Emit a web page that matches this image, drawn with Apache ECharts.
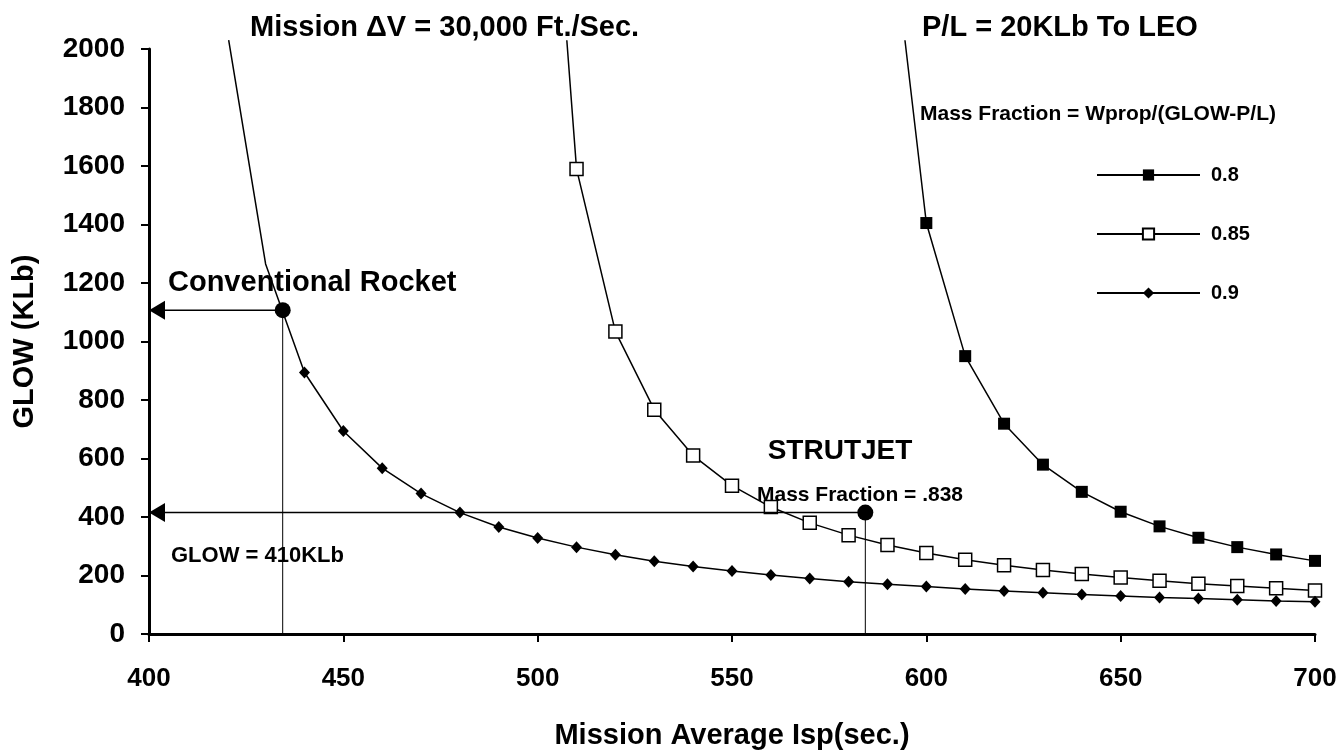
<!DOCTYPE html>
<html>
<head>
<meta charset="utf-8">
<script src="https://cdn.jsdelivr.net/npm/echarts@6/dist/echarts.min.js"></script>
<style>
  html, body { margin: 0; padding: 0; background: #fff; }
  #chart { width: 1342px; height: 755px; }
</style>
</head>
<body>
<div id="chart"></div>
<script>
// ---- Data ----
// Mission average Isp (sec) at the plotted markers
const isp80 = [600, 610, 620, 630, 640, 650, 660, 670, 680, 690, 700];
const glow80 = [1405, 950, 719, 579, 486, 418, 368, 329, 297, 272, 250];

const isp85 = [510, 520, 530, 540, 550, 560, 570, 580, 590, 600, 610, 620, 630, 640, 650, 660, 670, 680, 690, 700];
const glow85 = [1590, 1034, 767, 610, 507, 434, 380, 338, 304, 277, 254, 235, 219, 205, 193, 182, 172, 164, 156, 149];

const isp90 = [440, 450, 460, 470, 480, 490, 500, 510, 520, 530, 540, 550, 560, 570, 580, 590, 600, 610, 620, 630, 640, 650, 660, 670, 680, 690, 700];
const glow90 = [894, 694, 567, 480, 415, 366, 328, 297, 271, 249, 231, 215, 202, 190, 179, 170, 162, 154, 147, 141, 135, 130, 125, 121, 117, 113, 110];

// Unmarked upper ends of each curve (line runs past the top of the frame)
const isp80Top = [594.5];
const glow80Top = [2030];
const isp85Top = [507.5];
const glow85Top = [2030];
const isp90Top = [420.5, 430];
const glow90Top = [2030, 1265];

// Design points
const convIsp = 434.4;
const convGlow = 1107;
const strutIsp = 584.3;
const strutGlow = 415;

// Axis ticks
const xTicks = { min: 400, max: 700, step: 50 };
const yTicks = { min: 0, max: 2000, step: 200 };

const seriesNames = ['0.8', '0.85', '0.9'];

// ---- Build ----
const FONT = "'Liberation Sans', Arial, Helvetica, sans-serif";
const pairs = (xs, ys) => xs.map((x, i) => [x, ys[i]]);
const unmarked = (xs, ys) => xs.map((x, i) => ({ value: [x, ys[i]], symbol: 'none' }));

const arrowPath = 'path://M0,9.5 L16,0 L16,19 Z';

function curve(name, topX, topY, xs, ys, symbol, size, fill) {
  return {
    name: name,
    type: 'line',
    clip: false,
    data: unmarked(topX, topY).concat(pairs(xs, ys)),
    symbol: symbol,
    symbolSize: size,
    showAllSymbol: true,
    lineStyle: { color: '#000', width: 1.5 },
    itemStyle: { color: fill, borderColor: '#000', borderWidth: fill === '#fff' ? 1.5 : 0 },
    z: 3,
    silent: true
  };
}

function designPoint(id, x, y) {
  return [
    {
      name: id + '-h',
      type: 'line',
      clip: false,
      data: [
        { value: [xTicks.min, y], symbol: arrowPath, symbolSize: [16, 19], symbolOffset: [8, 0], symbolKeepAspect: false },
        { value: [x, y], symbol: 'circle', symbolSize: 16 }
      ],
      lineStyle: { color: '#000', width: 1.5 },
      itemStyle: { color: '#000' },
      z: 4,
      silent: true
    },
    {
      name: id + '-v',
      type: 'line',
      clip: false,
      data: [[x, yTicks.min], [x, y]],
      symbol: 'none',
      lineStyle: { color: '#000', width: 1 },
      z: 2,
      silent: true
    }
  ];
}

function txt(text, x, y, size, align) {
  return {
    type: 'text',
    x: x,
    y: y,
    silent: true,
    style: {
      text: text,
      fill: '#000',
      font: 'bold ' + size + 'px ' + FONT,
      align: align || 'left',
      verticalAlign: 'middle'
    }
  };
}

const option = {
  backgroundColor: '#fff',
  animation: false,
  grid: { left: 149, right: 27, top: 49, bottom: 116, containLabel: false },
  legend: {
    data: seriesNames,
    orient: 'vertical',
    left: 1096,
    top: 165,
    padding: 0,
    itemWidth: 103,
    itemHeight: 14,
    itemGap: 39,
    selectedMode: false,
    textStyle: { fontFamily: FONT, fontWeight: 'bold', fontSize: 20, color: '#000', padding: [0, 0, 0, 6] }
  },
  xAxis: {
    type: 'value',
    min: xTicks.min,
    max: xTicks.max,
    interval: xTicks.step,
    name: 'Mission Average Isp(sec.)',
    nameLocation: 'middle',
    nameGap: 87,
    nameTextStyle: { fontFamily: FONT, fontWeight: 'bold', fontSize: 29, color: '#000' },
    axisLine: { show: true, onZero: false, lineStyle: { color: '#000', width: 3 } },
    axisTick: { show: true, inside: false, length: 8, lineStyle: { color: '#000', width: 2 } },
    axisLabel: { margin: 32, fontFamily: FONT, fontWeight: 'bold', fontSize: 26, color: '#000', formatter: v => String(v) },
    splitLine: { show: false }
  },
  yAxis: {
    type: 'value',
    min: yTicks.min,
    max: yTicks.max,
    interval: yTicks.step,
    name: 'GLOW (KLb)',
    nameLocation: 'middle',
    nameGap: 110,
    nameTextStyle: { fontFamily: FONT, fontWeight: 'bold', fontSize: 29, color: '#000' },
    axisLine: { show: true, onZero: false, lineStyle: { color: '#000', width: 3 } },
    axisTick: { show: true, inside: false, length: 8, lineStyle: { color: '#000', width: 2 } },
    axisLabel: { margin: 24, fontFamily: FONT, fontWeight: 'bold', fontSize: 28, color: '#000', formatter: v => String(v) },
    splitLine: { show: false }
  },
  series: [
    curve(seriesNames[0], isp80Top, glow80Top, isp80, glow80, 'rect', 12, '#000'),
    curve(seriesNames[1], isp85Top, glow85Top, isp85, glow85, 'rect', 13, '#fff'),
    curve(seriesNames[2], isp90Top, glow90Top, isp90, glow90, 'diamond', [11, 12], '#000')
  ].concat(designPoint('conv', convIsp, convGlow), designPoint('strut', strutIsp, strutGlow)),
  graphic: [
    txt('Mission \u0394V = 30,000 Ft./Sec.', 250, 28, 29),
    txt('P/L = 20KLb To LEO', 922, 28, 29),
    txt('Mass Fraction = Wprop/(GLOW-P/L)', 920, 114, 21),
    txt('Conventional Rocket', 168, 283, 29),
    txt('STRUTJET', 840, 451, 28, 'center'),
    txt('Mass Fraction = .838', 757, 495, 21),
    txt('GLOW = 410KLb', 171, 556, 22)
  ]
};

const chart = echarts.init(document.getElementById('chart'), null, { renderer: 'canvas' });
chart.setOption(option);
</script>
</body>
</html>
